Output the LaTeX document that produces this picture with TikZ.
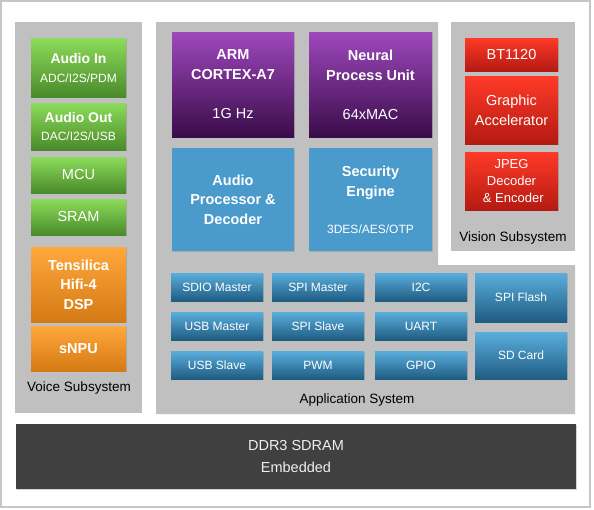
\documentclass[tikz,border=0pt]{standalone}
\usepackage{fontspec}
\setmainfont{Liberation Sans}
\usepackage{xcolor}
\usepackage{tikz}
\usetikzlibrary{shadows}

\definecolor{panelgray}{HTML}{C0C0C0}
\definecolor{framegray}{HTML}{C6C6C6}
\definecolor{greenT}{HTML}{8CDC5A}
\definecolor{greenB}{HTML}{4A8A2A}
\definecolor{orangeT}{HTML}{FFA83C}
\definecolor{orangeB}{HTML}{D47A14}
\definecolor{purpleT}{HTML}{9E48BC}
\definecolor{purpleB}{HTML}{3A0C4A}
\definecolor{bigblue}{HTML}{4A9BCB}
\definecolor{blueT}{HTML}{5AAEDD}
\definecolor{blueB}{HTML}{1F5C82}
\definecolor{redT}{HTML}{FF3A28}
\definecolor{redB}{HTML}{B41A12}
\definecolor{ddrgray}{HTML}{404040}

\tikzset{
  blk/.style={rectangle, inner sep=0pt, text=white, align=center,
    drop shadow={shadow xshift=1pt, shadow yshift=-1.3pt, opacity=.35}},
  bigfont/.style={font=\fontsize{14.5}{20}\selectfont},
  boldfont/.style={font=\fontsize{14.5}{20}\selectfont\bfseries},
  smallfont/.style={font=\fontsize{12}{14}\selectfont},
  greenbox/.style={blk, top color=greenT, bottom color=greenB, minimum width=95pt},
  orangebox/.style={blk, top color=orangeT, bottom color=orangeB, minimum width=95pt},
  purplebox/.style={blk, top color=purpleT, bottom color=purpleB, minimum height=105pt, boldfont},
  bluebox/.style={blk, fill=bigblue, minimum height=103pt, boldfont},
  iobox/.style={blk, top color=blueT, bottom color=blueB, minimum width=92pt, smallfont},
  redbox/.style={blk, top color=redT, bottom color=redB, minimum width=93pt, bigfont},
  panel/.style={fill=panelgray},
  sublabel/.style={font=\fontsize{13.5}{16}\selectfont, text=black}
}

\begin{document}
\begin{tikzpicture}[x=1pt,y=-1pt]
  \useasboundingbox (0,0) rectangle (594,509);
  \draw[framegray, line width=1.3pt] (1,1) rectangle (590,507);

  % panels
  \fill[panel] (15,22) rectangle (142,413);
  \fill[panel] (156,22) -- (438,22) -- (438,265) -- (575,265) -- (575,414) -- (156,414) -- cycle;
  \fill[panel] (451,22) rectangle (575,251);

  % voice subsystem
  \node[greenbox, minimum height=59pt, font=\fontsize{14}{19}\selectfont\bfseries] (audioin) at (78.5,67.5)
    {Audio In\\\mdseries\fontsize{12}{19}\selectfont ADC/I2S/PDM};
  \node[greenbox, minimum height=47pt, font=\fontsize{14}{18}\selectfont\bfseries] (audioout) at (78.5,126.5)
    {Audio Out\\\mdseries\fontsize{12}{18}\selectfont DAC/I2S/USB};
  \node[greenbox, minimum height=36pt, bigfont] (mcu) at (78.5,175) {MCU};
  \node[greenbox, minimum height=36pt, bigfont] (sram) at (78.5,217) {SRAM};
  \node[orangebox, minimum height=75pt, font=\fontsize{14.5}{19.5}\selectfont\bfseries] (dsp) at (78.5,284.5)
    {Tensilica\\Hifi-4\\DSP};
  \node[orangebox, minimum height=45pt, font=\fontsize{14.5}{19.5}\selectfont\bfseries] (snpu) at (78.5,348.5) {sNPU};
  \node[sublabel] (voice) at (79,388) {Voice Subsystem};

  % application system
  \node[purplebox, minimum width=122pt] (arm) at (233,84.5)
    {ARM\\CORTEX-A7\\[19pt]\mdseries 1G Hz};
  \node[purplebox, minimum width=123pt] (npu) at (370.5,84.5)
    {Neural\\Process Unit\\[19pt]\mdseries 64xMAC};
  \node[bluebox, minimum width=122pt, font=\fontsize{14.5}{19.5}\selectfont\bfseries] (audioproc) at (233,199.5)
    {Audio\\Processor \&\\Decoder};
  \node[bluebox, minimum width=123pt] (security) at (370.5,199.5)
    {Security\\Engine\\[17pt]\mdseries\fontsize{12}{20}\selectfont 3DES/AES/OTP};

  \node[iobox, minimum height=28pt] (sdio) at (217,287) {SDIO Master};
  \node[iobox, minimum height=28pt] (spim) at (318,287) {SPI Master};
  \node[iobox, minimum height=28pt] (iic) at (421,287) {I2C};
  \node[iobox, minimum height=28pt] (usbm) at (217,326) {USB Master};
  \node[iobox, minimum height=28pt] (spis) at (318,326) {SPI Slave};
  \node[iobox, minimum height=28pt] (uart) at (421,326) {UART};
  \node[iobox, minimum height=28pt] (usbs) at (217,365) {USB Slave};
  \node[iobox, minimum height=28pt] (pwm) at (318,365) {PWM};
  \node[iobox, minimum height=28pt] (gpio) at (421,365) {GPIO};
  \node[iobox, minimum height=49pt] (spiflash) at (521,297.5) {SPI Flash};
  \node[iobox, minimum height=47pt] (sdcard) at (521,355.5) {SD Card};
  \node[sublabel] (app) at (357,400) {Application System};

  % vision subsystem
  \node[redbox, minimum height=33pt] (bt) at (511.5,54.5) {BT1120};
  \node[redbox, minimum height=68pt] (gfx) at (511.5,110) {Graphic\\Accelerator};
  \node[redbox, minimum height=58pt, font=\fontsize{13}{17}\selectfont] (jpeg) at (511.5,181)
    {JPEG\\Decoder\\\ \& Encoder};
  \node[sublabel] (vision) at (513,238) {Vision Subsystem};

  % memory
  \node[blk, fill=ddrgray, minimum width=560pt, minimum height=65pt,
    font=\fontsize{14.5}{21}\selectfont, text=white!94!black] (ddr) at (296,456.5)
    {DDR3 SDRAM\\Embedded};
\end{tikzpicture}
\end{document}
